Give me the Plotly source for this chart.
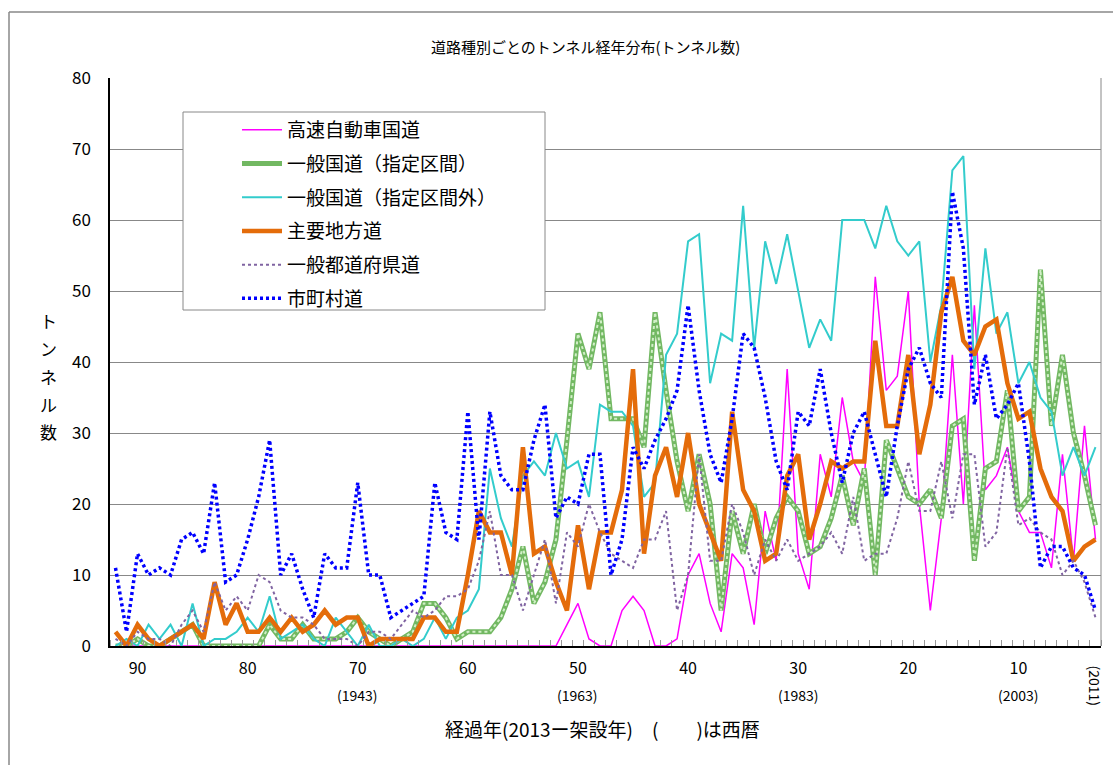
import plotly.graph_objects as go

# elapsed years (2013 - construction year), from oldest to newest
years = list(range(92, 2, -1))  # 92 .. 3

expressway = [0]*40 + [
    0, 3, 6, 1, 0, 0, 5, 7, 5, 0, 0, 1, 10, 13, 6, 2, 13, 11, 3, 19,
    12, 39, 13, 8, 27, 21, 35, 26, 23, 52, 36, 38, 50, 20, 5, 18, 41, 20, 48, 22,
    24, 28, 19, 16, 16, 11, 27, 12, 31, 15]

national_designated = [
    0, 0, 1, 0, 0, 1, 2, 3, 0, 0, 0, 0, 0, 0, 3, 1, 1, 3, 1, 1,
    1, 2, 4, 2, 1, 0, 1, 2, 6, 6, 4, 1, 2, 2, 2, 4, 8, 14, 6, 9,
    15, 29, 44, 39, 47, 32, 32, 32, 28, 47, 36, 26, 19, 27, 20, 5, 19, 13, 20, 13,
    18, 21, 19, 13, 14, 18, 24, 17, 25, 10, 29, 25, 21, 20, 22, 18, 31, 32, 12, 25,
    26, 36, 19, 21, 53, 31, 41, 30, 24, 17]

national_other = [
    0, 1, 0, 3, 1, 3, 0, 6, 0, 1, 1, 2, 4, 2, 7, 1, 2, 3, 1, 0,
    4, 2, 0, 3, 0, 0, 1, 0, 1, 4, 1, 4, 5, 8, 25, 18, 14, 24, 26, 24,
    30, 25, 26, 21, 34, 33, 33, 31, 21, 23, 41, 44, 57, 58, 37, 44, 43, 62, 42, 57,
    51, 58, 50, 42, 46, 43, 60, 60, 60, 56, 62, 57, 55, 57, 40, 48, 67, 69, 39, 56,
    44, 47, 37, 40, 35, 33, 24, 28, 24, 28]

main_local = [
    2, 0, 3, 1, 0, 1, 2, 3, 1, 9, 3, 6, 2, 2, 4, 2, 4, 2, 3, 5,
    3, 4, 4, 0, 1, 1, 1, 1, 4, 4, 2, 2, 10, 19, 16, 16, 10, 28, 13, 14,
    9, 5, 17, 8, 16, 16, 22, 39, 13, 24, 28, 21, 30, 20, 16, 12, 33, 22, 19, 12,
    13, 24, 27, 15, 20, 26, 25, 26, 26, 43, 31, 31, 41, 27, 34, 47, 52, 43, 41, 45,
    46, 37, 32, 33, 25, 21, 19, 12, 14, 15]

prefectural = [
    1, 0, 2, 1, 1, 0, 3, 5, 2, 9, 5, 7, 5, 10, 9, 5, 4, 4, 3, 1,
    1, 1, 0, 2, 2, 1, 3, 5, 4, 5, 7, 7, 8, 12, 19, 10, 10, 5, 10, 15,
    6, 16, 14, 20, 16, 13, 12, 11, 15, 15, 19, 5, 10, 27, 12, 12, 20, 16, 10, 15,
    12, 15, 12, 13, 14, 16, 13, 21, 12, 13, 13, 18, 26, 19, 19, 26, 18, 27, 27, 14,
    16, 28, 17, 18, 16, 15, 10, 12, 9, 4]

municipal = [
    11, 2, 13, 10, 11, 10, 15, 16, 13, 23, 9, 10, 15, 21, 29, 10, 13, 8, 4, 13,
    11, 11, 23, 10, 10, 4, 5, 6, 7, 23, 16, 15, 33, 15, 33, 24, 22, 22, 29, 34,
    18, 21, 20, 27, 27, 10, 15, 28, 25, 29, 32, 36, 48, 36, 27, 23, 32, 44, 42, 35,
    26, 22, 33, 31, 39, 30, 23, 30, 33, 27, 21, 31, 39, 42, 37, 35, 64, 56, 34, 41,
    32, 34, 37, 26, 11, 14, 14, 11, 10, 5]

tick_years = [90, 80, 70, 60, 50, 40, 30, 20, 10]
year_notes = {70: "(1943)", 50: "(1963)", 30: "(1983)", 10: "(2003)"}
last_note = "(2011)"

names = ["高速自動車国道", "一般国道（指定区間）", "一般国道（指定区間外）",
         "主要地方道", "一般都道府県道", "市町村道"]

FONT = "Noto Sans CJK JP, sans-serif"

fig = go.Figure()

fig.add_trace(go.Scatter(x=years, y=expressway, mode="lines", name=names[0],
                         legendgroup="a", line=dict(color="#FF00FF", width=1.5)))
fig.add_trace(go.Scatter(x=years, y=national_designated, mode="lines", name=names[1],
                         legendgroup="b", line=dict(color="#72B862", width=5)))
fig.add_trace(go.Scatter(x=years, y=national_designated, mode="lines", showlegend=False,
                         legendgroup="b", hoverinfo="skip",
                         line=dict(color="#D2EFC8", width=2, dash="dot")))
fig.add_trace(go.Scatter(x=years, y=national_other, mode="lines", name=names[2],
                         legendgroup="c", line=dict(color="#33CCCC", width=2)))
fig.add_trace(go.Scatter(x=years, y=main_local, mode="lines", name=names[3],
                         legendgroup="d", line=dict(color="#E46C0A", width=4.5)))
fig.add_trace(go.Scatter(x=years, y=prefectural, mode="lines", name=names[4],
                         legendgroup="e", line=dict(color="#8064A2", width=2, dash="dot")))
fig.add_trace(go.Scatter(x=years, y=municipal, mode="lines", name=names[5],
                         legendgroup="f", line=dict(color="#0000FF", width=3.5, dash="3px,3px")))

L, R, T, B = 110, 12, 78, 119
W, H = 1113, 765
pw, ph = W - L - R, H - T - B

def px(xp):
    return (xp - L) / pw

def py(yp):
    return (H - B - yp) / ph

def note(text, x, y, size, xref="paper", angle=0):
    return dict(text=text, x=x, y=y, xref=xref, yref="paper", showarrow=False,
                xanchor="center", yanchor="middle", textangle=angle,
                font=dict(size=size, color="#000"))

annotations = [
    note("道路種別ごとのトンネル経年分布(トンネル数)", px(585), py(47), 15),
    note("経過年(2013ー架設年)　(　　)は西暦", px(602), py(728), 19),
]
for i, ch in enumerate("トンネル数"):
    annotations.append(note(ch, px(48), py(320 + i * 28), 17))
for yr, txt in year_notes.items():
    annotations.append(note(txt, yr, py(695), 14, xref="x"))
annotations.append(note(last_note, years[-1], py(686), 14, xref="x", angle=90))

shapes = [
    # outer chart border (top and left)
    dict(type="line", xref="paper", yref="paper", x0=px(9), x1=px(1113), y0=py(12), y1=py(12),
         line=dict(color="#888", width=1.5)),
    dict(type="line", xref="paper", yref="paper", x0=px(9), x1=px(9), y0=py(12), y1=py(765),
         line=dict(color="#888", width=1.5)),
    # right plot border
    dict(type="line", xref="paper", yref="paper", x0=1, x1=1, y0=0, y1=1,
         line=dict(color="#888", width=1)),
    # legend box
    dict(type="rect", xref="paper", yref="paper", x0=px(183), x1=px(545), y0=py(310), y1=py(112),
         line=dict(color="#888", width=1), fillcolor="white", layer="above"),
]

fig.update_layout(
    width=W, height=H,
    margin=dict(l=L, r=R, t=T, b=B),
    paper_bgcolor="white", plot_bgcolor="white",
    font=dict(family=FONT, size=16, color="#000"),
    showlegend=True,
    legend=dict(x=px(237), y=py(111), xanchor="left", yanchor="top",
                bgcolor="rgba(0,0,0,0)", borderwidth=0, itemwidth=40,
                tracegroupgap=6, font=dict(size=19, family=FONT),
                traceorder="grouped"),
    annotations=annotations,
    shapes=shapes,
)

fig.update_xaxes(
    range=[92.5, 2.5], tickmode="array", tickvals=tick_years,
    ticktext=[str(v) for v in tick_years], ticks="", showgrid=False,
    showline=True, linecolor="#000", linewidth=1.5, zeroline=False,
    ticklabelstandoff=7, tickfont=dict(size=16),
    minor=dict(ticks="inside", tick0=0.5, dtick=1, ticklen=6, tickcolor="#999", showgrid=False),
)
fig.update_yaxes(
    range=[0, 80], dtick=10, showgrid=True, gridcolor="#888", gridwidth=1,
    showline=True, linecolor="#000", linewidth=1.5, zeroline=False,
    ticks="", ticklabelstandoff=14, tickfont=dict(size=17),
)

fig.write_html("out.html", config={"displayModeBar": False},
               post_script="document.body.style.margin='0px';")
